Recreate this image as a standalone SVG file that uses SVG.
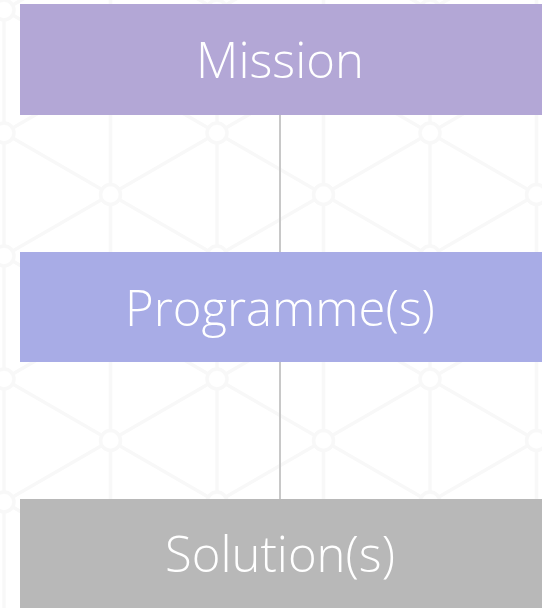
<svg xmlns="http://www.w3.org/2000/svg" width="542" height="608" viewBox="0 0 542 608">
  <style>
    .lbl { font-family: "Open Sans", "Noto Sans", "Liberation Sans", sans-serif; font-weight: 300; font-size: 49px; fill: #ffffff; text-anchor: middle; dominant-baseline: central; }
    .conn { stroke: #c8c8c8; stroke-width: 2; fill: none; }
    .bg line { stroke: #f8f8f8; stroke-width: 3.5; }
    .bg circle { stroke: #f8f8f8; stroke-width: 3.5; fill: #ffffff; }
  </style>
  <defs>
    <pattern id="iso" patternUnits="userSpaceOnUse" x="4" y="10" width="213" height="123">
      <g class="bg">
        <line x1="0" y1="-5" x2="0" y2="128"/>
        <line x1="213" y1="-5" x2="213" y2="128"/>
        <line x1="106.5" y1="-5" x2="106.5" y2="128"/>
        <line x1="0" y1="0" x2="213" y2="123"/>
        <line x1="213" y1="0" x2="0" y2="123"/>
        <line x1="-106.5" y1="61.5" x2="106.5" y2="-61.5"/>
        <line x1="106.5" y1="184.5" x2="319.5" y2="61.5"/>
        <line x1="-106.5" y1="61.5" x2="106.5" y2="184.5"/>
        <line x1="106.5" y1="-61.5" x2="319.5" y2="61.5"/>
        <circle cx="0" cy="0" r="10"/>
        <circle cx="213" cy="0" r="10"/>
        <circle cx="0" cy="123" r="10"/>
        <circle cx="213" cy="123" r="10"/>
        <circle cx="106.5" cy="61.5" r="10"/>
      </g>
    </pattern>
  </defs>
  <rect x="0" y="0" width="542" height="608" fill="#ffffff"/>
  <rect x="0" y="0" width="542" height="608" fill="url(#iso)"/>
  <g id="connectors">
    <line class="conn" x1="280" y1="115" x2="280" y2="252"/>
    <line class="conn" x1="280" y1="362" x2="280" y2="499"/>
  </g>
  <g id="mission">
    <rect x="20" y="4" width="522" height="111" fill="#b3a7d6"/>
    <text class="lbl" x="280" y="59">Mission</text>
  </g>
  <g id="programmes">
    <rect x="20" y="252" width="522" height="110" fill="#a8ace6"/>
    <text class="lbl" x="280" y="307">Programme(s)</text>
  </g>
  <g id="solutions">
    <rect x="20" y="499" width="522" height="109" fill="#b8b8b8"/>
    <text class="lbl" x="280" y="553">Solution(s)</text>
  </g>
</svg>
